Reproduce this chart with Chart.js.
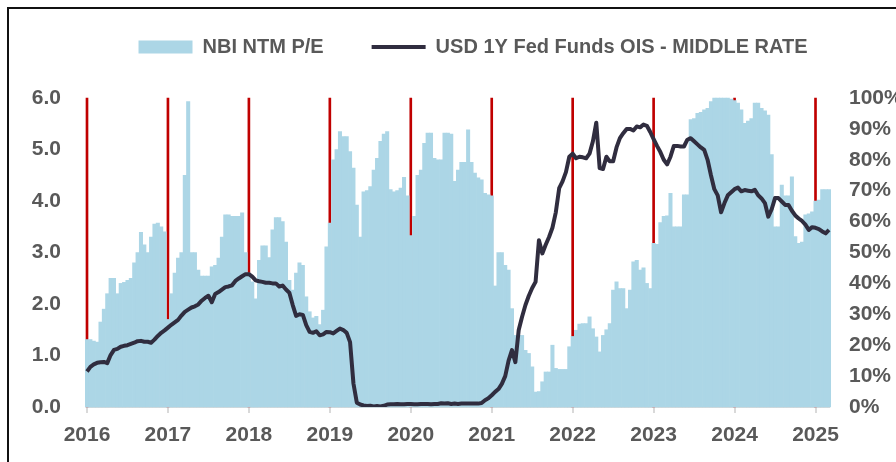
<!DOCTYPE html>
<html>
<head>
<meta charset="utf-8">
<script src="https://cdn.jsdelivr.net/npm/chart.js@4.4.1/dist/chart.umd.min.js"></script>
<style>
  html, body { margin: 0; padding: 0; background: #fff; }
  #wrap { position: relative; width: 896px; height: 462px; overflow: hidden; }
  #frame { position: absolute; left: 7px; top: 7px; width: 1000px; height: 1000px;
           border-left: 2px solid #111; border-top: 2px solid #111; }
  canvas { position: absolute; left: 0; top: 0; }
</style>
</head>
<body>
<div id="wrap">
  <div id="frame"></div>
  <canvas id="chart" width="896" height="462"></canvas>
</div>
<script>
  // half-monthly readings, Jan 2016 to early Mar 2025
  const years = ['2016', '2017', '2018', '2019', '2020', '2021', '2022', '2023', '2024', '2025'];

  // NBI NTM P/E (left axis)
  const peValues = [
    1.31, 1.31, 1.28, 1.26, 1.65, 1.9, 2.2, 2.5, 2.5, 2.2, 2.4, 2.42, 2.46, 2.5, 2.8, 3.0, 3.39, 3.15, 3.0, 3.3, 3.55, 3.57, 3.5, 3.4,
    1.7, 2.2, 2.6, 2.89, 3.0, 4.5, 5.93, 3.0, 3.0, 2.66, 2.54, 2.54, 2.54, 2.72, 2.75, 2.89, 3.3, 3.73, 3.73, 3.7, 3.7, 3.7, 3.77, 3.0,
    2.6, 2.43, 2.1, 2.85, 3.13, 3.13, 2.9, 3.44, 3.68, 3.68, 3.6, 3.2, 2.46, 2.27, 2.6, 2.8, 2.75, 2.14, 1.85, 1.73, 1.76, 1.6, 1.88, 3.11,
    3.57, 4.8, 5.0, 5.35, 5.25, 5.25, 4.96, 4.64, 3.92, 3.3, 4.18, 4.2, 4.28, 4.6, 4.83, 5.16, 5.3, 5.35, 4.22, 4.18, 4.2, 4.25, 4.46, 4.1,
    3.33, 3.7, 4.5, 4.6, 5.12, 5.32, 5.32, 4.83, 4.8, 4.8, 5.32, 5.32, 5.3, 4.38, 4.6, 4.75, 4.75, 5.38, 4.75, 4.54, 4.45, 4.41, 4.15, 4.12,
    4.1, 2.35, 3.0, 3.0, 2.75, 2.66, 1.91, 1.39, 1.39, 1.39, 1.1, 1.04, 0.78, 0.29, 0.3, 0.49, 0.68, 0.68, 1.2, 0.75, 0.73, 0.73, 0.73, 1.17,
    1.37, 1.49, 1.61, 1.62, 1.62, 1.75, 1.52, 1.36, 1.07, 1.39, 1.5, 1.62, 2.27, 2.43, 2.3, 2.3, 1.91, 2.27, 2.82, 2.85, 2.66, 2.7, 2.4, 2.3,
    3.18, 3.16, 3.58, 3.7, 3.71, 4.15, 3.5, 3.5, 3.5, 4.12, 4.12, 5.58, 5.6, 5.7, 5.72, 5.77, 5.8, 5.93, 6.0, 6.0, 6.0, 6.0, 6.0, 5.98,
    5.95, 5.9, 5.77, 5.51, 5.55, 5.6, 5.9, 5.9, 5.8, 5.75, 5.67, 4.9, 3.5, 3.5, 4.31, 4.1, 4.1, 4.47, 3.31, 3.18, 3.2, 3.73, 3.75, 3.79,
    4.0, 4.02, 4.22, 4.22, 4.22
  ];

  // USD 1Y Fed Funds OIS - middle rate (right axis, %)
  const oisValues = [
    11.5, 13, 13.8, 14.3, 14.5, 14.6, 14.2, 16.8, 18.5, 18.8, 19.5, 19.8, 20.0, 20.4, 20.8, 21.3, 21.4, 21.1, 21.1, 20.8, 21.8, 23.0, 24.0, 24.8,
    25.7, 26.6, 27.4, 28.2, 29.6, 30.8, 31.5, 32.2, 32.6, 33.2, 34.4, 35.3, 36.0, 33.9, 36.6, 37.2, 38.0, 38.8, 39.0, 39.4, 40.8, 41.6, 42.3, 43.0,
    43.0, 42.2, 41.0, 40.7, 40.5, 40.2, 40.2, 40.0, 40.0, 39.0, 39.3, 38.0, 37.0, 33.0, 29.5, 30.0, 29.8, 26.5, 24.3, 24.0, 24.5, 23.2, 23.5, 24.3,
    24.2, 23.8, 24.6, 25.4, 24.9, 24.0, 21.0, 7.6, 1.4, 0.8, 0.5, 0.3, 0.4, 0.2, 0.3, 0.2, 0.4, 0.8, 0.9, 0.9, 1.0, 0.9, 0.9, 1.0,
    1.0, 0.9, 0.9, 1.0, 1.0, 1.0, 0.9, 1.0, 1.0, 1.2, 1.1, 1.2, 1.0, 1.1, 1.0, 1.1, 1.1, 1.1, 1.1, 1.1, 1.1, 1.3, 2.2, 2.8,
    3.8, 4.9, 5.8, 7.5, 10.0, 15.0, 18.4, 14.5, 24.9, 29.2, 33.0, 36.0, 38.5, 40.5, 54.0, 49.7, 52.5, 55.0, 58.0, 63.0, 70.8, 73.0, 76.0, 81.0,
    82.0, 80.5, 81.0, 80.8, 80.5, 82.0, 86.0, 92.0, 77.3, 77.0, 81.0, 79.5, 79.5, 84.0, 87.0, 88.6, 90.0, 90.0, 89.5, 90.8, 90.5, 91.4, 91.0, 89.0,
    86.7, 84.5, 82.5, 80.0, 78.5, 81.0, 84.5, 84.5, 84.3, 84.3, 86.5, 87.0, 86.0, 85.0, 84.0, 83.2, 80.0, 75.0, 70.5, 68.5, 63.0, 66.0, 68.5, 69.5,
    70.5, 71.0, 69.8, 70.2, 70.0, 69.8, 70.3, 68.5, 67.5, 66.0, 61.6, 64.0, 67.6, 67.6, 66.5, 65.4, 65.4, 63.5, 62.0, 61.0, 60.2, 59.0, 57.3, 58.2,
    58.0, 57.6, 56.8, 56.2, 57.3
  ];

  const markerTop = 6.0; // red year lines reach the top of the left axis

  // category labels like "2016-01a" / "2016-01b"
  const periods = [];
  years.forEach(function(y) {
    for (let m = 1; m <= 12; m++) {
      const mm = String(m).padStart(2, '0');
      periods.push(y + '-' + mm + 'a', y + '-' + mm + 'b');
    }
  });
  periods.length = peValues.length;

  const yearMarks = periods.map(p => p.endsWith('-01a') ? markerTop : null);

  const grey = '#595959';
  const tickFont = { family: 'Liberation Sans', size: 21, weight: 'bold' };

  const ctx = document.getElementById('chart').getContext('2d');
  new Chart(ctx, {
    type: 'bar',
    data: {
      labels: periods,
      datasets: [
        {
          label: 'NBI NTM P/E',
          data: peValues,
          backgroundColor: '#acd6e6',
          borderWidth: 0,
          barPercentage: 1,
          categoryPercentage: 1,
          grouped: false,
          clip: false,
          pointStyle: 'rect',
          yAxisID: 'y',
          order: 1
        },
        {
          type: 'line',
          label: 'USD 1Y Fed Funds OIS - MIDDLE RATE',
          data: oisValues,
          borderColor: '#302d3f',
          backgroundColor: '#302d3f',
          borderWidth: 4,
          borderJoinStyle: 'round',
          pointRadius: 0,
          pointStyle: 'line',
          tension: 0,
          yAxisID: 'y1',
          order: 0
        },
        {
          label: 'year',
          data: yearMarks,
          backgroundColor: '#c00000',
          barThickness: 2,
          grouped: false,
          clip: false,
          yAxisID: 'y',
          order: 2
        }
      ]
    },
    options: {
      responsive: false,
      animation: false,
      layout: {
        // negative right padding moves the centred legend to the right
        padding: { left: 0, top: -11, right: -50, bottom: 0 }
      },
      scales: {
        x: {
          offset: false,
          grid: {
            offset: false,
            drawOnChartArea: false,
            tickLength: 6,
            color: '#d9d9d9',
            lineWidth: 2
          },
          border: { display: true, color: '#d9d9d9', width: 2 },
          ticks: {
            autoSkip: false,
            maxRotation: 0,
            minRotation: 0,
            padding: 10,
            color: grey,
            font: tickFont,
            callback: function(v) {
              const p = this.getLabelForValue(v);
              return p.endsWith('-01a') ? p.slice(0, 4) : null;
            }
          },
          afterFit: function(s) { s.height = 55; }
        },
        y: {
          position: 'left',
          min: 0,
          max: 6,
          grid: { display: false, drawTicks: false },
          border: { display: false },
          ticks: {
            stepSize: 1,
            padding: 26,
            color: grey,
            font: tickFont,
            callback: v => v.toFixed(1)
          },
          afterFit: function(s) { s.width = 87; }
        },
        y1: {
          position: 'right',
          min: 0,
          max: 100,
          grid: { display: false, drawTicks: false },
          border: { display: false },
          ticks: {
            stepSize: 10,
            padding: 20,
            color: grey,
            font: tickFont,
            callback: v => v + '%'
          },
          afterFit: function(s) { s.width = 117; }
        }
      },
      plugins: {
        legend: {
          position: 'top',
          labels: {
            usePointStyle: true,
            pointStyleWidth: 54,
            boxHeight: 13,
            padding: 48,
            color: grey,
            font: { family: 'Liberation Sans', size: 20, weight: 'bold' },
            filter: item => item.datasetIndex !== 2,
            sort: (a, b) => a.datasetIndex - b.datasetIndex
          }
        },
        // empty spacer between legend and plot
        subtitle: {
          display: true,
          text: '',
          weight: 500,
          padding: 0,
          font: { size: 10, lineHeight: 3.1 }
        },
        tooltip: { enabled: false }
      }
    }
  });
</script>
</body>
</html>
